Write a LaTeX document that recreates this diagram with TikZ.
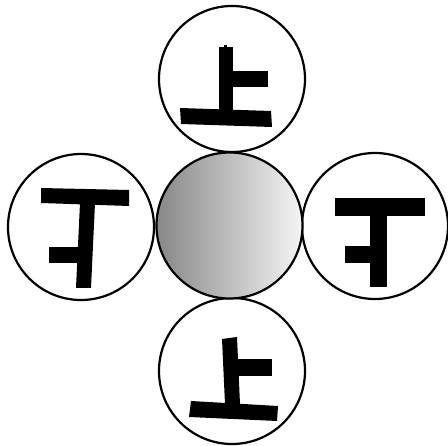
\documentclass[tikz,border=0pt]{standalone}
\usepackage{tikz}

\begin{document}
\begin{tikzpicture}[x=1pt, y=-1pt,
  disc/.style={draw, circle, line width=2.2pt, minimum size=146pt, inner sep=0pt},
  hub/.style={disc, left color=black!47, right color=white!96!black},
  bar/.style={fill=black}
]
  \useasboundingbox (0,0) rectangle (448,446);

  % Outer discs
  \node[disc] (up) at (232,79) {};
  \node[disc] (down) at (232,371) {};
  \node[disc] (west) at (81,227) {};
  \node[disc] (east) at (375,226) {};

  % Shaded centre disc
  \node[hub] (core) at (229.5,225.5) {};

  % Glyph in the top disc
  \fill[bar] (219,47) -- (233,47) -- (233,110) -- (219,110) -- cycle;
  \fill[bar] (224,45) rectangle (227,48);
  \fill[bar] (233,71) rectangle (268,87);
  \fill[bar] (180,108) -- (271,111) -- (272,127) -- (181,124) -- cycle;

  % Glyph in the bottom disc
  \fill[bar] (222,339) -- (237,337) -- (240,404) -- (225,404) -- cycle;
  \fill[bar] (238,359) rectangle (272,376);
  \fill[bar] (191,401) -- (278,406) -- (277,421) -- (189,417) -- cycle;

  % Glyph in the left disc
  \fill[bar] (41,188) -- (129,190) -- (129,206) -- (41,203) -- cycle;
  \fill[bar] (80,203) -- (95,203) -- (91,288) -- (76,288) -- cycle;
  \fill[bar] (49,247) rectangle (79,263);

  % Glyph in the right disc
  \fill[bar] (335,198) rectangle (425,216);
  \fill[bar] (370,214) rectangle (387,287);
  \fill[bar] (345,246) rectangle (371,263);

\end{tikzpicture}
\end{document}
